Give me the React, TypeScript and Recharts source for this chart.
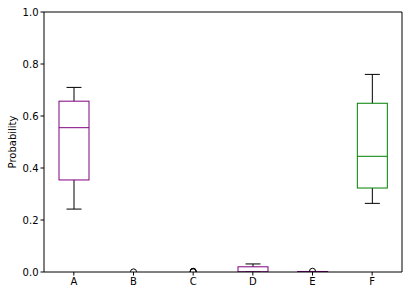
import { ComposedChart, Bar, Scatter, XAxis, YAxis } from "recharts"

const categories = ["A", "B", "C", "D", "E", "F"]
const whiskerLow = [0.242, 0, 0, 0, 0, 0.264]
const q1 = [0.354, 0, 0, 0, 0, 0.323]
const median = [0.555, 0, 0, 0, 0, 0.445]
const q3 = [0.657, 0, 0, 0.02, 0.002, 0.649]
const whiskerHigh = [0.71, 0, 0, 0.031, 0.002, 0.76]

// outliers, up to three per category
const flier1 = [null, 0.0005, 0.001, null, 0.003, null]
const flier2 = [null, null, 0.002, null, null, null]
const flier3 = [null, null, 0.003, null, null, null]

const yTicks = [0, 0.2, 0.4, 0.6, 0.8, 1.0]

const boxColors: Record<string, string> = {
  A: "#800080",
  B: "#800080",
  C: "#800080",
  D: "#800080",
  E: "#800080",
  F: "#008000",
}

const rows = categories.map((name, i) => ({
  name,
  range: [whiskerLow[i], whiskerHigh[i]],
  q1: q1[i],
  median: median[i],
  q3: q3[i],
  lo: whiskerLow[i],
  hi: whiskerHigh[i],
  f1: flier1[i],
  f2: flier2[i],
  f3: flier3[i],
}))

const font = { fontFamily: "DejaVu Sans", fontSize: 10, fill: "#000" }

// draws the box from the pixel span of the [low, high] range bar
const BoxShape = (props: any) => {
  const { x, y, width, height, payload } = props
  const top = Math.min(y, y + height)
  const h = Math.abs(height)
  const { lo, hi } = payload
  const color = boxColors[payload.name]
  const cx = x + width / 2
  const cap = width / 4
  if (hi - lo <= 0) return null
  const py = (v: number) => top + (h * (hi - v)) / (hi - lo)
  return (
    <g fill="none" strokeWidth={1}>
      <line x1={cx} x2={cx} y1={py(hi)} y2={py(payload.q3)} stroke="#000" />
      <line x1={cx} x2={cx} y1={py(payload.q1)} y2={py(lo)} stroke="#000" />
      <line x1={cx - cap} x2={cx + cap} y1={py(hi)} y2={py(hi)} stroke="#000" />
      <line x1={cx - cap} x2={cx + cap} y1={py(lo)} y2={py(lo)} stroke="#000" />
      <rect
        x={x}
        y={py(payload.q3)}
        width={width}
        height={py(payload.q1) - py(payload.q3)}
        stroke={color}
      />
      <line x1={x} x2={x + width} y1={py(payload.median)} y2={py(payload.median)} stroke={color} />
    </g>
  )
}

const FlierShape = (props: any) => {
  if (props.payload == null || props.cy == null || isNaN(props.cy)) return null
  return <circle cx={props.cx} cy={props.cy} r={3} fill="none" stroke="#000" strokeWidth={1} />
}

export default function App() {
  return (
    <div style={{ position: "absolute", left: 0, top: 0, background: "#fff" }}>
      <ComposedChart
        width={408}
        height={296}
        data={rows}
        margin={{ top: 11, right: 5, bottom: 0, left: 0 }}
      >
        <XAxis
          dataKey="name"
          tick={font}
          tickSize={3.5}
          tickLine={{ stroke: "#000" }}
          axisLine={{ stroke: "#000" }}
          height={24}
        />
        <XAxis
          xAxisId="top"
          orientation="top"
          dataKey="name"
          tick={false}
          tickLine={false}
          axisLine={{ stroke: "#000" }}
          height={1}
        />
        <YAxis
          type="number"
          domain={[0, 1]}
          ticks={yTicks}
          allowDataOverflow
          tickFormatter={(v: number) => v.toFixed(1)}
          tick={font}
          tickSize={3.5}
          tickLine={{ stroke: "#000" }}
          axisLine={{ stroke: "#000" }}
          width={44}
          label={{
            value: "Probability",
            angle: -90,
            position: "insideLeft",
            offset: 12,
            style: { ...font, textAnchor: "middle" },
          }}
        />
        <YAxis
          yAxisId="right"
          orientation="right"
          domain={[0, 1]}
          tick={false}
          tickLine={false}
          axisLine={{ stroke: "#000" }}
          width={1}
        />
        <Bar dataKey="range" barSize={30} shape={<BoxShape />} isAnimationActive={false} />
        <Scatter dataKey="f1" shape={<FlierShape />} isAnimationActive={false} />
        <Scatter dataKey="f2" shape={<FlierShape />} isAnimationActive={false} />
        <Scatter dataKey="f3" shape={<FlierShape />} isAnimationActive={false} />
      </ComposedChart>
    </div>
  )
}
